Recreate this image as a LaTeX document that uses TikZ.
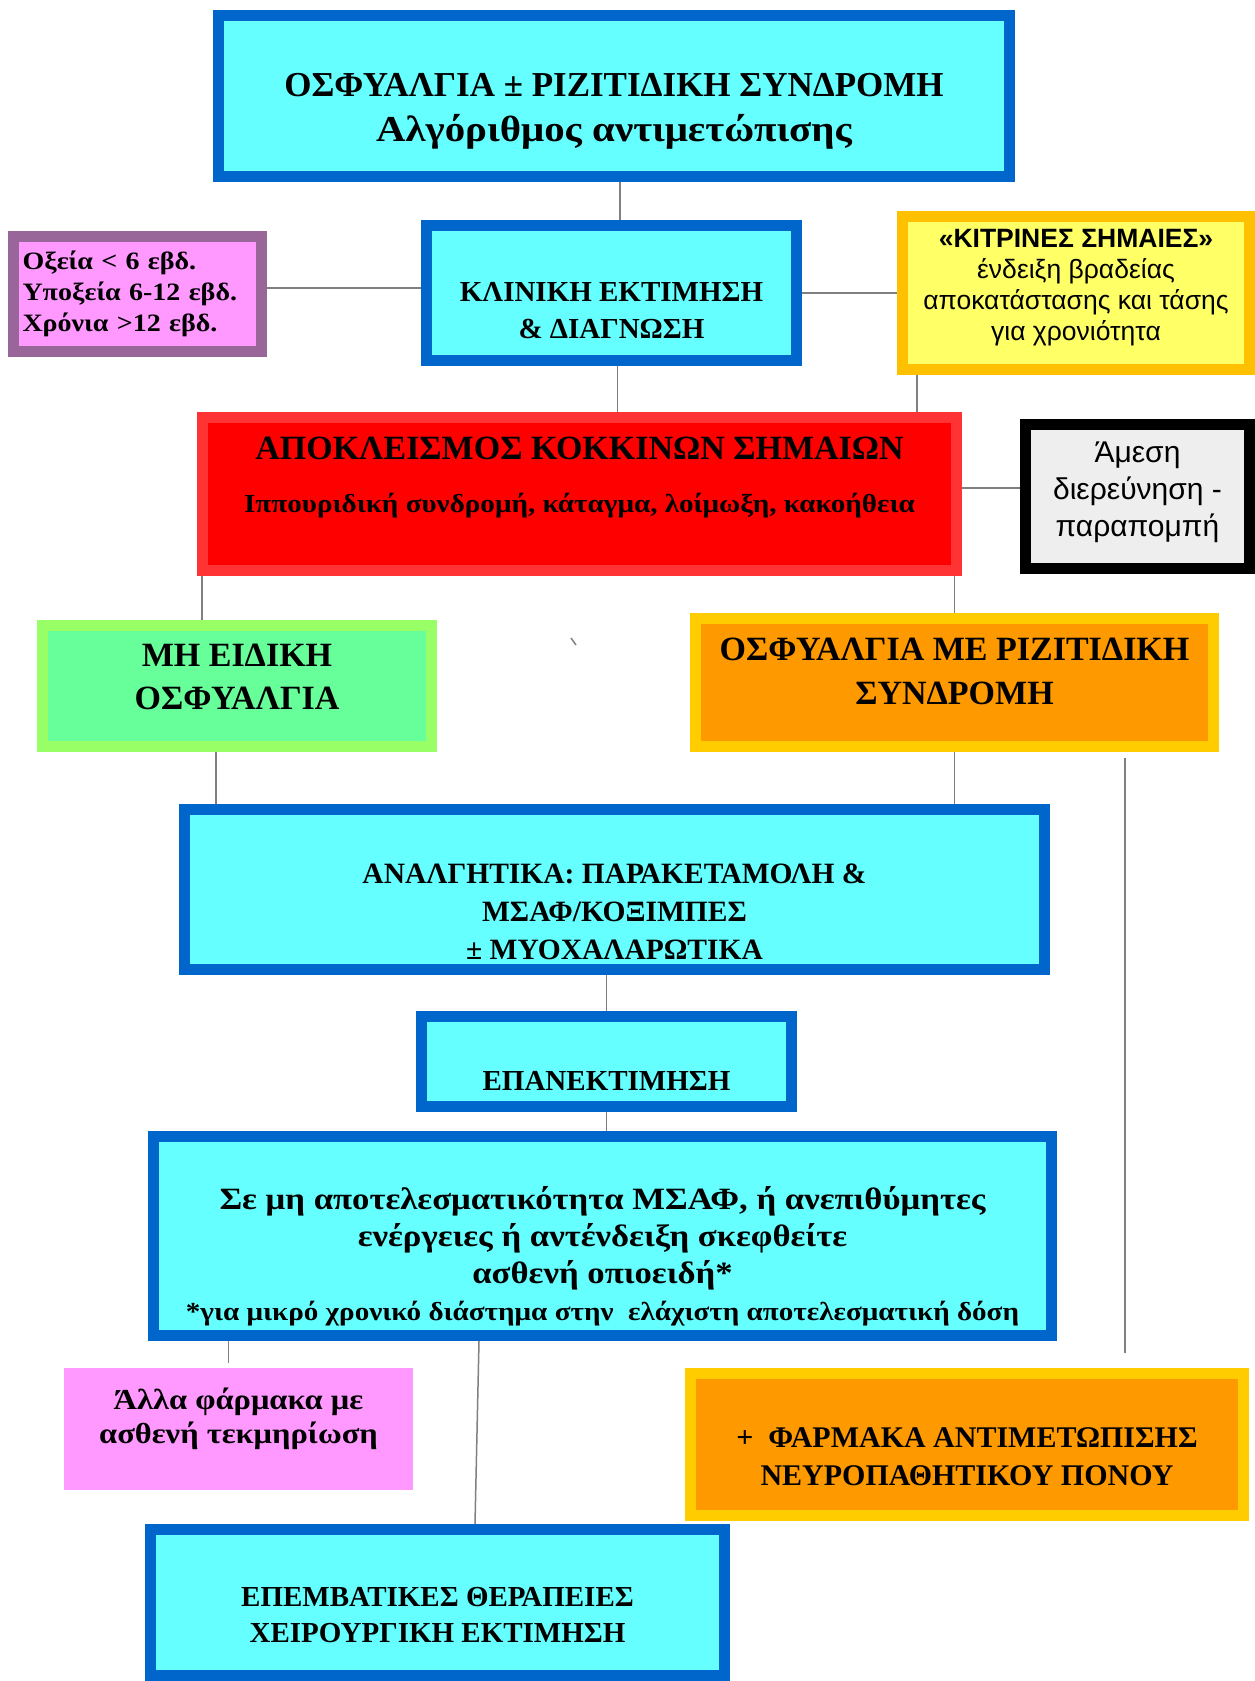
\documentclass[tikz,border=0pt]{standalone}
\usepackage{fontspec}
\setmainfont{Liberation Serif}
\newfontfamily\serifwide{Liberation Serif}[FakeStretch=1.12]
\newfontfamily\sansgr{Liberation Sans}
\usepackage{xcolor}
\usepackage{tikz}
\usetikzlibrary{positioning}

\definecolor{boxblue}{HTML}{0066CC}
\definecolor{boxcyan}{HTML}{66FFFF}
\definecolor{redline}{HTML}{FF3333}
\definecolor{redfill}{HTML}{FF0000}
\definecolor{yelline}{HTML}{FFC000}
\definecolor{yelfill}{HTML}{FFFF66}
\definecolor{orgline}{HTML}{FFCC00}
\definecolor{orgfill}{HTML}{FF9900}
\definecolor{grnline}{HTML}{99FF66}
\definecolor{grnfill}{HTML}{66FF99}
\definecolor{pnkline}{HTML}{996699}
\definecolor{pnkfill}{HTML}{FF99FF}
\definecolor{greyfill}{HTML}{EEEEEE}
\definecolor{linkgray}{HTML}{808080}

\newcommand{\fs}[2]{\fontsize{#1}{#2}\selectfont}
% struts that push the text of a box down (top) or up (bottom)
\newcommand{\padtop}[1]{\rule{0pt}{#1}}
\newcommand{\padbot}[1]{\rule[-#1]{0pt}{0pt}}

\begin{document}
\begin{tikzpicture}[x=1pt, y=-1pt,
    box/.style={rectangle, draw, line width=11pt, align=center, inner sep=0pt},
    cyanbox/.style={box, draw=boxblue, fill=boxcyan},
    link/.style={draw=linkgray, line width=1.5pt}
]
\useasboundingbox (0,0) rectangle (1255,1681);

\node[cyanbox, minimum width=791pt, minimum height=161pt, font=\bfseries\fs{35}{45}] (title) at (614,96)
    {\padtop{54pt}ΟΣΦΥΑΛΓΙΑ ± ΡΙΖΙΤΙΔΙΚΗ ΣΥΝΔΡΟΜΗ\\{\serifwide\fs{36.5}{45}Αλγόριθμος αντιμετώπισης}};
\node[cyanbox, minimum width=370pt, minimum height=135pt, font=\bfseries\fs{29}{37}] (clin) at (611.5,293)
    {\padtop{54pt}ΚΛΙΝΙΚΗ ΕΚΤΙΜΗΣΗ\\\& ΔΙΑΓΝΩΣΗ};
\node[box, draw=pnkline, fill=pnkfill, minimum width=248pt, minimum height=115pt,
      text width=230pt, align=left, font=\serifwide\bfseries\fs{25}{31}] (phase) at (137.5,294)
    {Οξεία < 6 εβδ.\\Υποξεία 6-12 εβδ.\\Χρόνια >12 εβδ.};
\node[box, draw=yelline, fill=yelfill, minimum width=347pt, minimum height=153pt,
      font=\sansgr\fs{26.5}{31}] (yellow) at (1076,293)
    {{\bfseries «ΚΙΤΡΙΝΕΣ ΣΗΜΑΙΕΣ»}\\ένδειξη βραδείας\\αποκατάστασης και τάσης\\για χρονιότητα\padbot{15.6pt}};

\node[box, draw=redline, fill=redfill, minimum width=754pt, minimum height=153pt, font=\bfseries\fs{34}{45}] (red) at (579.5,494)
    {ΑΠΟΚΛΕΙΣΜΟΣ ΚΟΚΚΙΝΩΝ ΣΗΜΑΙΩΝ\\[8pt]{\serifwide\fs{26}{30}Ιππουριδική συνδρομή, κάταγμα, λοίμωξη, κακοήθεια}\padbot{38pt}};
\node[box, draw=black, fill=greyfill, minimum width=224pt, minimum height=144pt, font=\sansgr\fs{30}{37}] (grey) at (1137.5,496.5)
    {Άμεση\\διερεύνηση -\\παραπομπή\padbot{14pt}};

\node[box, draw=grnline, fill=grnfill, minimum width=389pt, minimum height=121pt, font=\bfseries\fs{34}{43}] (green) at (237,686)
    {ΜΗ ΕΙΔΙΚΗ\\ΟΣΦΥΑΛΓΙΑ\padbot{18pt}};
\node[box, draw=orgline, fill=orgfill, minimum width=518pt, minimum height=128pt, font=\bfseries\fs{34}{44}] (radic) at (954.5,682.5)
    {ΟΣΦΥΑΛΓΙΑ ΜΕ ΡΙΖΙΤΙΔΙΚΗ\\ΣΥΝΔΡΟΜΗ\padbot{22pt}};

\node[cyanbox, minimum width=860pt, minimum height=160pt, font=\bfseries\fs{29.5}{38}] (analg) at (614.5,889.5)
    {\padtop{64pt}ΑΝΑΛΓΗΤΙΚΑ: ΠΑΡΑΚΕΤΑΜΟΛΗ \&\\ΜΣΑΦ/ΚΟΞΙΜΠΕΣ\\± ΜΥΟΧΑΛΑΡΩΤΙΚΑ};
\node[cyanbox, minimum width=370pt, minimum height=90pt, font=\bfseries\fs{29}{38}] (reass) at (606.5,1061.5)
    {\padtop{58pt}ΕΠΑΝΕΚΤΙΜΗΣΗ};
\node[cyanbox, minimum width=898pt, minimum height=199pt, font=\serifwide\bfseries\fs{31}{37}] (opioid) at (602.5,1236)
    {\padtop{63pt}Σε μη αποτελεσματικότητα ΜΣΑΦ, ή ανεπιθύμητες\\ενέργειες ή αντένδειξη σκεφθείτε\\ασθενή οπιοειδή*\\
     {\fs{26}{34}*για μικρό χρονικό διάστημα στην\ \ ελάχιστη αποτελεσματική δόση}};

\node[box, draw=none, fill=pnkfill, minimum width=349pt, minimum height=122pt, font=\serifwide\bfseries\fs{29}{34}] (other) at (238.5,1429)
    {Άλλα φάρμακα με\\ασθενή τεκμηρίωση\padbot{26pt}};
\node[box, draw=orgline, fill=orgfill, minimum width=553pt, minimum height=142pt, font=\bfseries\fs{30}{38}] (neuro) at (967,1444.5)
    {\padtop{44pt}+\ \ ΦΑΡΜΑΚΑ ΑΝΤΙΜΕΤΩΠΙΣΗΣ\\ΝΕΥΡΟΠΑΘΗΤΙΚΟΥ ΠΟΝΟΥ};
\node[cyanbox, minimum width=574pt, minimum height=146pt, font=\bfseries\fs{29}{36}] (invas) at (437.5,1602.5)
    {\padtop{44pt}ΕΠΕΜΒΑΤΙΚΕΣ ΘΕΡΑΠΕΙΕΣ\\ΧΕΙΡΟΥΡΓΙΚΗ ΕΚΤΙΜΗΣΗ};

% connectors
\draw[link] ([xshift=6pt]title.south) -- ([xshift=6pt]title.south |- clin.north);
\draw[link] ([yshift=6pt]phase.east) -- ([yshift=6pt]phase.east -| clin.west);
\draw[link] (clin) -- (yellow);
\draw[link] ([xshift=6pt]clin.south) -- ([xshift=6pt]clin.south |- red.north);
\draw[link] ([xshift=20pt]yellow.south west) -- ([xshift=20pt]yellow.south west |- red.north);
\draw[link] ([yshift=6pt]red.east) -- ([yshift=6pt]red.east -| grey.west);
\draw[link] ([xshift=5pt]red.south west) -- ([xshift=5pt]red.south west |- green.north);
\draw[link] (red.south -| radic.north) -- (radic.north);
\draw[link] ([xshift=-21pt]green.south) -- ([xshift=-21pt]green.south |- analg.north);
\draw[link] (radic.south) -- (radic.south |- analg.north);
\draw[link, shorten <=6pt, shorten >=15pt] ([xshift=-94pt]radic.south east) -- ([xshift=-94pt]radic.south east |- neuro.north);
\draw[link] (reass.north |- analg.south) -- (reass.north);
\draw[link] (reass.south) -- (reass.south |- opioid.north);
\draw[link] ([xshift=-10pt]other.north |- opioid.south) -- ([xshift=-10pt]other.north);
\draw[link] ([xshift=331pt]opioid.south west) -- ([xshift=330pt]invas.north west);
\draw[link] (571,638) -- (576,645);
\end{tikzpicture}
\end{document}
